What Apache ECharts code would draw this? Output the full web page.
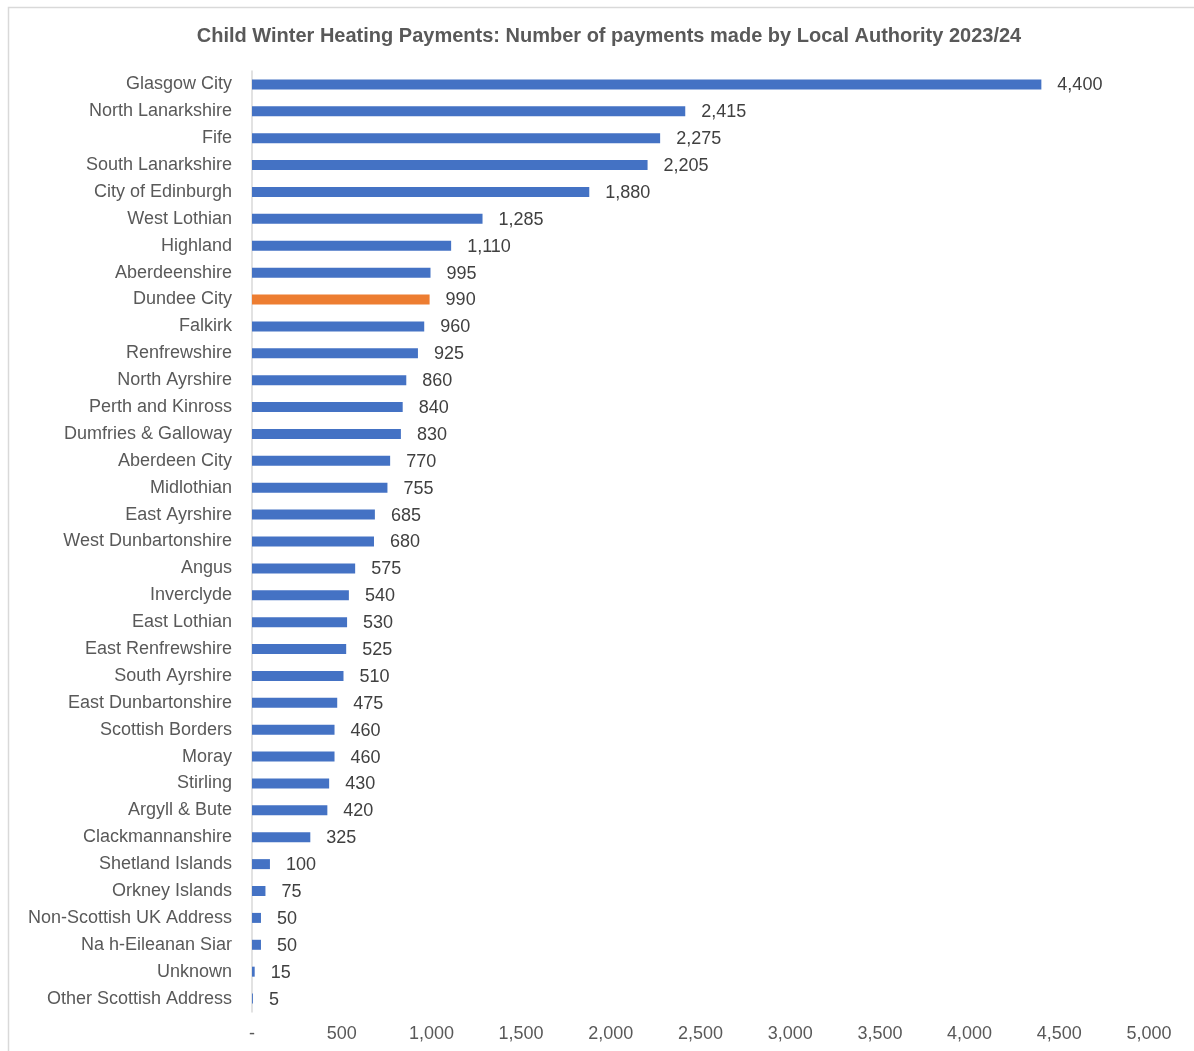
<!DOCTYPE html>
<html>
<head>
<meta charset="utf-8">
<script src="https://cdn.jsdelivr.net/npm/echarts@6/dist/echarts.min.js"></script>
<style>
html,body{margin:0;padding:0;background:#fff;}
#chart{width:1194px;height:1051px;}
</style>
</head>
<body>
<div id="chart"></div>
<script>
const categories = ["Glasgow City","North Lanarkshire","Fife","South Lanarkshire","City of Edinburgh","West Lothian","Highland","Aberdeenshire","Dundee City","Falkirk","Renfrewshire","North Ayrshire","Perth and Kinross","Dumfries & Galloway","Aberdeen City","Midlothian","East Ayrshire","West Dunbartonshire","Angus","Inverclyde","East Lothian","East Renfrewshire","South Ayrshire","East Dunbartonshire","Scottish Borders","Moray","Stirling","Argyll & Bute","Clackmannanshire","Shetland Islands","Orkney Islands","Non-Scottish UK Address","Na h-Eileanan Siar","Unknown","Other Scottish Address"];
const payments = [4400,2415,2275,2205,1880,1285,1110,995,990,960,925,860,840,830,770,755,685,680,575,540,530,525,510,475,460,460,430,420,325,100,75,50,50,15,5];
const highlight = "Dundee City";
const titleText = "Child Winter Heating Payments: Number of payments made by Local Authority 2023/24";

const chart = echarts.init(document.getElementById('chart'), null, {renderer:'canvas'});
const fmt = v => v === 0 ? '-' : v.toLocaleString('en-GB');
chart.setOption({
  animation:false,
  backgroundColor:'#fff',
  graphic:[{type:'rect',shape:{x:8.5,y:7.5,width:1300,height:1200},style:{fill:'none',stroke:'#d9d9d9',lineWidth:1.5}}],
  title:{text:titleText,left:604,textAlign:'center',top:21,textStyle:{fontFamily:'Liberation Sans, Arial',fontSize:20,fontWeight:'bold',color:'#595959'}},
  grid:{left:252,right:45,top:71,bottom:39,containLabel:false},
  xAxis:{type:'value',min:0,max:5000,interval:500,
    axisLine:{show:false},axisTick:{show:false},splitLine:{show:false},
    axisLabel:{formatter:fmt,fontFamily:'Liberation Sans, Arial',fontSize:18,color:'#595959',margin:13}},
  yAxis:{type:'category',data:categories,inverse:true,
    axisLine:{show:true,lineStyle:{color:'#d9d9d9',width:1.5}},axisTick:{show:false},
    axisLabel:{fontFamily:'Liberation Sans, Arial',fontSize:18,color:'#595959',margin:20}},
  series:[{type:'bar',barWidth:10,
    data:payments.map((v,i)=>({value:v,itemStyle:{color:categories[i]===highlight?'#ED7D31':'#4472C4'}})),
    label:{show:true,position:'right',distance:16,offset:[0,1],formatter:p=>fmt(p.value),fontFamily:'Liberation Sans, Arial',fontSize:18,color:'#404040'}
  }]
});
</script>
</body>
</html>
